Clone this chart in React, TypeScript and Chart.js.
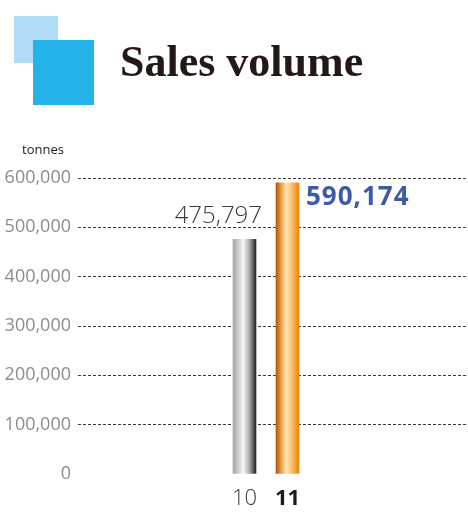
import { useEffect, useRef } from 'react';
import { Chart, registerables } from 'chart.js';

Chart.register(...registerables);

const title = 'Sales volume';
const unitLabel = 'tonnes';
const years = [10, 11];
const yearLabels = ['10', '11'];
const salesTonnes = [475797, 590174];
const valueLabels = ['475,797', '590,174'];
const yTicks = [0, 100000, 200000, 300000, 400000, 500000, 600000];

const BAR_W = 23;
const FONT = '"Open Sans", "Noto Sans", sans-serif';

function barGradient(ctx: CanvasRenderingContext2D, cx: number, idx: number) {
  const g = ctx.createLinearGradient(cx - BAR_W / 2, 0, cx + BAR_W / 2, 0);
  if (idx === 0) {
    g.addColorStop(0, '#a5a5a5');
    g.addColorStop(0.18, '#c2c2c2');
    g.addColorStop(0.45, '#f7f7f7');
    g.addColorStop(0.72, '#a8a8a8');
    g.addColorStop(1, '#262626');
  } else {
    g.addColorStop(0, '#b35500');
    g.addColorStop(0.18, '#dc9238');
    g.addColorStop(0.45, '#ffe6b4');
    g.addColorStop(0.75, '#f8b45a');
    g.addColorStop(1, '#ef8200');
  }
  return g;
}

const decorPlugin = {
  id: 'decor',
  beforeDraw(chart: any) {
    const ctx = chart.ctx as CanvasRenderingContext2D;
    ctx.save();
    ctx.fillStyle = '#b0dcf4';
    ctx.fillRect(14, 16, 44, 47);
    ctx.fillStyle = '#25b4e9';
    ctx.fillRect(33, 40, 61, 65);
    ctx.fillStyle = '#231815';
    ctx.font = 'bold 44px "Liberation Serif", "Times New Roman", serif';
    ctx.textBaseline = 'alphabetic';
    ctx.textAlign = 'left';
    ctx.fillText(title, 120, 76);
    ctx.font = `13px ${FONT}`;
    ctx.fillStyle = '#231815';
    ctx.fillText(unitLabel, 22, 154);
    ctx.restore();
  },
  beforeDatasetsDraw(chart: any) {
    const meta = chart.getDatasetMeta(0);
    meta.data.forEach((el: any, i: number) => {
      if (Number.isFinite(el.x) && el.options) {
        el.options.backgroundColor = barGradient(chart.ctx, el.x, i);
      }
    });
  },
  afterDatasetsDraw(chart: any) {
    const ctx = chart.ctx as CanvasRenderingContext2D;
    const meta = chart.getDatasetMeta(0);
    ctx.save();
    ctx.textBaseline = 'alphabetic';
    meta.data.forEach((el: any, i: number) => {
      const right = el.x + BAR_W / 2;
      if (i === 0) {
        ctx.font = `300 24px ${FONT}`;
        ctx.fillStyle = '#3e3a39';
        ctx.textAlign = 'right';
        (ctx as any).letterSpacing = '0px';
        ctx.fillText(valueLabels[i], right + 6, el.y - 16);
      } else {
        ctx.font = `bold 26px ${FONT}`;
        ctx.fillStyle = '#3d5aa8';
        ctx.textAlign = 'left';
        (ctx as any).letterSpacing = '1px';
        ctx.fillText(valueLabels[i], right + 7, el.y + 22);
        (ctx as any).letterSpacing = '0px';
      }
    });
    ctx.restore();
  },
};

export default function App() {
  const ref = useRef<HTMLCanvasElement>(null);
  useEffect(() => {
    if (!ref.current) return;
    const chart = new Chart(ref.current, {
      type: 'bar',
      data: {
        datasets: [
          {
            data: years.map((x, i) => ({ x, y: salesTonnes[i] })),
            barThickness: BAR_W,
            borderWidth: 0,
            backgroundColor: ['#bdbdbd', '#f8b45a'],
          } as any,
        ],
      },
      options: {
        responsive: false,
        animation: false,
        devicePixelRatio: 1,
        layout: { padding: { top: 178, left: 0, right: 0, bottom: 0 } },
        plugins: { legend: { display: false }, tooltip: { enabled: false }, title: { display: false } },
        scales: {
          x: {
            type: 'linear',
            min: 6.128,
            max: 15.198,
            offset: false,
            bounds: 'data',
            grid: { display: false, drawTicks: false, offset: false },
            border: { display: false },
            afterBuildTicks: (s: any) => {
              s.ticks = years.map((v) => ({ value: v }));
            },
            afterFit: (s: any) => {
              s.height = 38;
            },
            ticks: {
              padding: 12,
              autoSkip: false,
              maxRotation: 0,
              callback: (v: any) => yearLabels[years.indexOf(Number(v))] ?? '',
              font: (c: any) =>
                c.tick && c.tick.value === 11
                  ? { family: FONT, size: 22, weight: 'bold' }
                  : { family: FONT, size: 22, weight: '300' },
              color: (c: any) => (c.tick && c.tick.value === 11 ? '#231815' : '#3e3a39'),
            },
          },
          y: {
            min: 0,
            max: 600000,
            afterBuildTicks: (s: any) => {
              s.ticks = yTicks.map((v) => ({ value: v }));
            },
            afterFit: (s: any) => {
              s.width = 78;
            },
            border: { display: false, dash: [3, 2] },
            grid: {
              drawTicks: false,
              lineWidth: 1,
              color: (c: any) => (c.tick && c.tick.value === 0 ? 'rgba(0,0,0,0)' : '#3a3a3a'),
            } as any,
            ticks: {
              padding: 7,
              color: '#8c8c8c',
              font: { family: FONT, size: 18 },
              callback: (v: any) => Number(v).toLocaleString('en-US'),
            },
          },
        },
      } as any,
      plugins: [decorPlugin],
    });
    return () => chart.destroy();
  }, []);
  return (
    <div style={{ position: 'fixed', left: 0, top: 0, width: 468, height: 512 }}>
      <canvas ref={ref} width={468} height={512} />
    </div>
  );
}
